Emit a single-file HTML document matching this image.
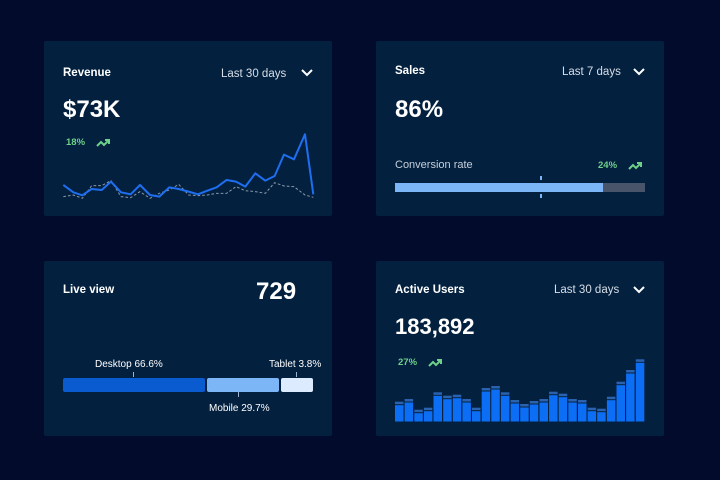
<!DOCTYPE html>
<html><head><meta charset="utf-8"><style>
html,body{margin:0;padding:0;background:#020b2b;}
svg{display:block;font-family:"Liberation Sans",sans-serif;}
</style></head><body>
<svg width="720" height="480" viewBox="0 0 720 480" xmlns="http://www.w3.org/2000/svg">
<rect width="720" height="480" fill="#020b2b"/>
<g fill="#03213f">
<rect x="44" y="41" width="288" height="175" rx="2"/>
<rect x="376" y="41" width="288" height="175" rx="2"/>
<rect x="44" y="261" width="288" height="175" rx="2"/>
<rect x="376" y="261" width="288" height="175" rx="2"/>
</g>
<text x="63" y="76" fill="#fff" font-size="11.5" font-weight="bold">Revenue</text>
<text x="221" y="77" fill="#d8dee8" font-size="11.5">Last 30 days</text>
<path d="M302 70 l5 5 l5 -5" stroke="#fff" stroke-width="2" fill="none"/>
<text x="63" y="117" fill="#fff" font-size="24" font-weight="bold">$73K</text>
<text x="66" y="145" fill="#6fd08a" font-size="9.5" font-weight="bold">18%</text>
<path d="M97 146 l4 -4 l3 3 l5 -5 M105 140 h4 v4" stroke="#6fd08a" stroke-width="2" fill="none"/>
<g transform="translate(40,40) scale(0.3333)">
<polyline fill="none" stroke="#8a97a8" stroke-width="3" stroke-dasharray="8,6" points="70,470 100,465 127,475 155,437 185,437 213,422 243,470 272,473 300,455 330,475 358,460 388,450 416,433 446,465 474,467 502,465 530,460 560,460 588,440 616,452 646,455 676,460 704,428 732,438 762,440 795,465 820,472"/>
<polyline fill="none" stroke="#1f6ef0" stroke-width="6" stroke-linejoin="round" points="70,435 100,457 127,466 155,447 185,450 213,425 243,457 272,463 300,435 330,465 358,470 388,442 416,447 446,455 474,463 502,452 530,442 560,420 588,425 616,440 646,400 676,422 704,408 732,344 762,358 795,283 820,463"/>
</g>
<text x="395" y="74" fill="#fff" font-size="11.5" font-weight="bold">Sales</text>
<text x="562" y="75" fill="#d8dee8" font-size="11.5">Last 7 days</text>
<path d="M634 69 l5 5 l5 -5" stroke="#fff" stroke-width="2" fill="none"/>
<text x="395" y="117" fill="#fff" font-size="24" font-weight="bold">86%</text>
<text x="395" y="168" fill="#c7cfdb" font-size="11">Conversion rate</text>
<text x="598" y="168" fill="#6fd08a" font-size="9.5" font-weight="bold">24%</text>
<path d="M629 169 l4 -4 l3 3 l5 -5 M637 163 h4 v4" stroke="#6fd08a" stroke-width="2" fill="none"/>
<rect x="395" y="183" width="250" height="9" fill="#47546a"/>
<rect x="395" y="183" width="208" height="9" fill="#7db6f7"/>
<rect x="540" y="176" width="2" height="4" fill="#7db6f7"/>
<rect x="540" y="194" width="2" height="4" fill="#7db6f7"/>
<text x="63" y="293" fill="#fff" font-size="11.5" font-weight="bold">Live view</text>
<text x="256" y="299" fill="#fff" font-size="24" font-weight="bold">729</text>
<text x="95" y="367" fill="#fff" font-size="10">Desktop 66.6%</text>
<text x="269" y="367" fill="#fff" font-size="10">Tablet 3.8%</text>
<text x="209" y="411" fill="#fff" font-size="10">Mobile 29.7%</text>
<rect x="133" y="372" width="1" height="5" fill="#9cb3cf"/>
<rect x="296" y="372" width="1" height="5" fill="#9cb3cf"/>
<rect x="238" y="392" width="1" height="5" fill="#9cb3cf"/>
<rect x="63" y="378" width="142" height="14" rx="2" fill="#0a5bd0"/>
<rect x="207" y="378" width="72" height="14" rx="2" fill="#7db6f7"/>
<rect x="281" y="378" width="32" height="14" rx="2" fill="#dcebfd"/>
<text x="395" y="293" fill="#fff" font-size="11.5" font-weight="bold">Active Users</text>
<text x="554" y="293" fill="#d8dee8" font-size="11.5">Last 30 days</text>
<path d="M634 287 l5 5 l5 -5" stroke="#fff" stroke-width="2" fill="none"/>
<text x="395" y="334" fill="#fff" font-size="22" font-weight="bold">183,892</text>
<text x="398" y="365" fill="#6fd08a" font-size="9.5" font-weight="bold">27%</text>
<path d="M429 366 l4 -4 l3 3 l5 -5 M437 360 h4 v4" stroke="#6fd08a" stroke-width="2" fill="none"/>
<g fill="#2a62b0">
<rect x="395" y="401.7" width="8.5" height="2.5"/><rect x="404.6" y="399" width="8.5" height="2.5"/><rect x="414.3" y="409.7" width="8.5" height="2.5"/><rect x="423.9" y="407.7" width="8.5" height="2.5"/><rect x="433.5" y="392.3" width="8.5" height="2.5"/><rect x="443.2" y="395.7" width="8.5" height="2.5"/><rect x="452.8" y="394.7" width="8.5" height="2.5"/><rect x="462.4" y="399" width="8.5" height="2.5"/><rect x="472" y="407.7" width="8.5" height="2.5"/><rect x="481.7" y="388" width="8.5" height="2.5"/><rect x="491.3" y="386" width="8.5" height="2.5"/><rect x="500.9" y="392.3" width="8.5" height="2.5"/><rect x="510.6" y="400" width="8.5" height="2.5"/><rect x="520.2" y="404" width="8.5" height="2.5"/><rect x="529.8" y="401" width="8.5" height="2.5"/><rect x="539.5" y="399" width="8.5" height="2.5"/><rect x="549.1" y="391.7" width="8.5" height="2.5"/><rect x="558.7" y="393.7" width="8.5" height="2.5"/><rect x="568.3" y="399" width="8.5" height="2.5"/><rect x="578" y="400" width="8.5" height="2.5"/><rect x="587.6" y="407.7" width="8.5" height="2.5"/><rect x="597.2" y="408.7" width="8.5" height="2.5"/><rect x="606.9" y="396.7" width="8.5" height="2.5"/><rect x="616.5" y="381.7" width="8.5" height="2.5"/><rect x="626.1" y="370" width="8.5" height="2.5"/><rect x="635.8" y="359.3" width="8.5" height="2.5"/>
</g>
<g fill="#0b6ef5">
<rect x="395" y="405.2" width="8.5" height="16.3"/><rect x="404.6" y="402.5" width="8.5" height="19"/><rect x="414.3" y="413.2" width="8.5" height="8.3"/><rect x="423.9" y="411.2" width="8.5" height="10.3"/><rect x="433.5" y="395.8" width="8.5" height="25.7"/><rect x="443.2" y="399.2" width="8.5" height="22.3"/><rect x="452.8" y="398.2" width="8.5" height="23.3"/><rect x="462.4" y="402.5" width="8.5" height="19"/><rect x="472" y="411.2" width="8.5" height="10.3"/><rect x="481.7" y="391.5" width="8.5" height="30"/><rect x="491.3" y="389.5" width="8.5" height="32"/><rect x="500.9" y="395.8" width="8.5" height="25.7"/><rect x="510.6" y="403.5" width="8.5" height="18"/><rect x="520.2" y="407.5" width="8.5" height="14"/><rect x="529.8" y="404.5" width="8.5" height="17"/><rect x="539.5" y="402.5" width="8.5" height="19"/><rect x="549.1" y="395.2" width="8.5" height="26.3"/><rect x="558.7" y="397.2" width="8.5" height="24.3"/><rect x="568.3" y="402.5" width="8.5" height="19"/><rect x="578" y="403.5" width="8.5" height="18"/><rect x="587.6" y="411.2" width="8.5" height="10.3"/><rect x="597.2" y="412.2" width="8.5" height="9.3"/><rect x="606.9" y="400.2" width="8.5" height="21.3"/><rect x="616.5" y="385.2" width="8.5" height="36.3"/><rect x="626.1" y="373.5" width="8.5" height="48"/><rect x="635.8" y="362.8" width="8.5" height="58.7"/>
</g>
</svg>
</body></html>
